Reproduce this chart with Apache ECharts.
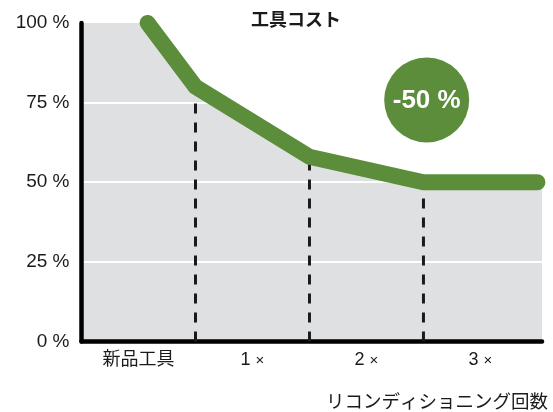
<!DOCTYPE html>
<html>
<head>
<meta charset="utf-8">
<script src="https://cdn.jsdelivr.net/npm/echarts@6/dist/echarts.min.js"></script>
<style>
  html, body { margin: 0; padding: 0; background: #ffffff; }
  #chart { width: 553px; height: 412px; }
</style>
</head>
<body>
<div id="chart"></div>
<script>
// Tool cost over the number of reconditionings (percent of a new tool)
const stageX = [0.58, 1, 2, 3, 4];
const costPct = [100, 80, 58, 50, 50];

// Stage boundaries marked with dashed drop lines
const dropX = [1, 2, 3];

// Category labels sit in the middle of each stage band
const categories = ['新品工具', '1 ×', '2 ×', '3 ×'];
const categoryPos = [0.5, 1.5, 2.5, 3.5];

const X_MAX = 4.04;
const titleText = '工具コスト';
const axisName = 'リコンディショニング回数';

const GREEN = '#5b8d3b';
const INK = '#1a1a1a';
const FONT = "'Liberation Sans', 'Noto Sans CJK JP', sans-serif";

const costAt = x => costPct[stageX.indexOf(x)];
const reduction = Math.round((costPct[costPct.length - 1] / costPct[0] - 1) * 100);

// Grey field under the cost curve, carried flat to both plot edges
const areaData = [[0, costPct[0]]]
  .concat(stageX.map((x, i) => [x, costPct[i]]))
  .concat([[X_MAX, costPct[costPct.length - 1]]]);

const dropSeries = dropX.map(x => ({
  type: 'line',
  data: [[x, 0], [x, costAt(x)]],
  symbol: 'none',
  silent: true,
  z: 2,
  lineStyle: { color: INK, width: 3, type: [10, 9] }
}));

const chart = echarts.init(document.getElementById('chart'), null, { renderer: 'canvas' });
chart.setOption({
  animation: false,
  title: {
    text: titleText,
    left: 296,
    top: 12,
    padding: 0,
    textAlign: 'center',
    textStyle: { fontFamily: FONT, fontSize: 18, fontWeight: 'bold', color: INK }
  },
  grid: {
    left: 81.5,
    right: 11,
    top: 23,
    bottom: 70,
    show: false
  },
  xAxis: {
    type: 'value',
    min: 0,
    max: X_MAX,
    interval: 0.5,
    name: axisName,
    nameLocation: 'end',
    nameGap: 6,
    nameTextStyle: {
      fontFamily: FONT, fontSize: 18.5, color: INK,
      align: 'right', verticalAlign: 'top', padding: [52, 0, 0, 0]
    },
    axisLine: { show: true, lineStyle: { color: '#000', width: 4.5 } },
    axisTick: { show: false },
    splitLine: { show: false },
    axisLabel: {
      margin: 10,
      fontFamily: FONT, fontSize: 18, color: INK,
      showMinLabel: true, showMaxLabel: true,
      formatter: v => {
        const i = categoryPos.findIndex(p => Math.abs(p - v) < 1e-6);
        return i >= 0 ? categories[i].replace('×', '{x|×}') : '';
      },
      rich: {
        x: { fontFamily: FONT, fontSize: 15, color: INK }
      }
    }
  },
  yAxis: {
    type: 'value',
    min: 0,
    max: 100,
    interval: 25,
    axisLine: { show: true, lineStyle: { color: '#000', width: 4.5 } },
    axisTick: { show: false },
    splitLine: { show: true, showMinLine: false, showMaxLine: false, lineStyle: { color: '#ffffff', width: 2 } },
    axisLabel: {
      margin: 12,
      fontFamily: FONT, fontSize: 19, color: INK,
      formatter: v => v + ' %'
    }
  },
  series: [
    {
      type: 'line',
      data: areaData,
      symbol: 'none',
      silent: true,
      z: -1,
      lineStyle: { width: 0 },
      areaStyle: { color: '#dfe0e2', opacity: 1 }
    },
    ...dropSeries,
    {
      type: 'line',
      data: stageX.map((x, i) => [x, costPct[i]]),
      symbol: 'none',
      z: 5,
      lineStyle: { color: GREEN, width: 16, cap: 'round', join: 'miter' }
    }
  ],
  graphic: [
    {
      type: 'circle',
      shape: { cx: 426.7, cy: 100, r: 42.5 },
      style: { fill: GREEN },
      z: 10
    },
    {
      type: 'text',
      x: 426.7,
      y: 101,
      z: 11,
      style: {
        text: reduction + ' %',
        fill: '#ffffff',
        fontFamily: FONT,
        fontSize: 26,
        fontWeight: 'bold',
        align: 'center',
        verticalAlign: 'middle'
      }
    }
  ]
});
</script>
</body>
</html>
